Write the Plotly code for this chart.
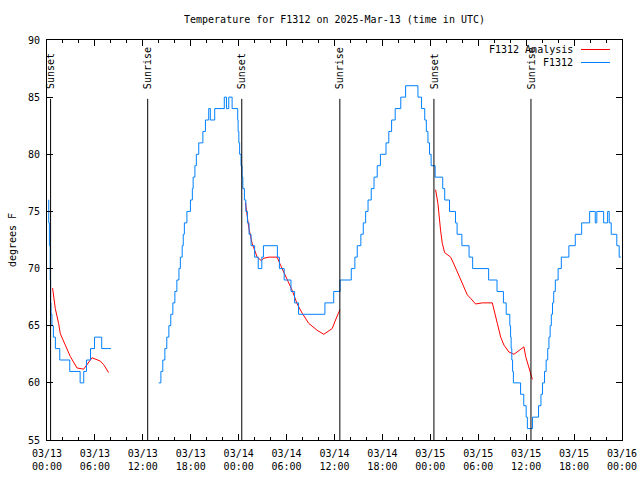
import plotly.graph_objects as go

# ---------------- data (hours since 2025-03-13 00:00 UTC) ----------------
# F1312 observations, step series: (hour at which reading changes, temperature F)
blue_seg1_hours = [0.16, 0.22, 0.3, 0.4, 0.45, 0.5, 0.62, 0.8, 1.05, 1.6, 2.85, 4.15, 4.6, 4.95,
                   5.45, 5.95, 6.85, 8.0]
blue_seg1_temps = [76, 74, 72, 69, 67, 66, 65, 64, 63, 62, 61, 60, 61, 62,
                   63, 64, 63, 63]
blue_seg2_hours = [13.99, 14.26, 14.5, 14.76, 15.0, 15.26, 15.5, 15.76, 16.01, 16.26, 16.52, 16.7,
                   16.93, 17.06, 17.2, 17.52, 17.96, 18.2, 18.3, 18.52, 18.7, 19.0, 19.52, 19.84,
                   20.25, 20.45, 21.0, 22.2, 22.47, 22.76, 23.18, 23.88, 23.93, 24.02, 24.12, 24.3,
                   24.42, 24.52, 24.72, 24.9, 25.1, 25.3, 25.55, 26.0, 26.45, 26.9, 27.1, 28.85,
                   29.1, 29.7, 30.55, 31.0, 31.5, 34.8, 35.9, 36.7, 38.1, 38.55, 38.85, 39.3,
                   39.6, 39.9, 40.2, 40.6, 40.95, 41.35, 41.75, 42.45, 42.8, 43.15, 43.6, 44.3,
                   44.9, 46.45, 46.9, 47.3, 47.5, 47.7, 47.9, 48.1, 48.6, 49.55, 49.8, 50.4,
                   51.15, 51.35, 51.95, 52.85, 53.3, 55.3, 56.35, 57.15, 57.5, 57.95, 58.05, 58.12,
                   58.2, 58.3, 58.4, 59.3, 59.7, 60.0, 60.15, 60.8, 61.55, 61.85, 62.05, 62.3,
                   62.5, 62.7, 62.85, 63.0, 63.15, 63.3, 63.45, 63.65, 64.0, 64.4, 65.35, 66.15,
                   66.95, 67.95, 68.65, 68.85, 69.7, 70.2, 70.4, 70.65, 71.35, 71.65, 71.85]
blue_seg2_temps = [60, 61, 62, 63, 64, 65, 66, 67, 68, 69, 70, 71,
                   72, 73, 74, 75, 76, 77, 78, 79, 80, 81, 82, 83,
                   84, 83, 84, 85, 84, 85, 84, 83, 82, 81, 80, 79,
                   78, 77, 76, 75, 74, 73, 72, 71, 70, 71, 72, 71,
                   70, 69, 68, 67, 66, 67, 68, 69, 70, 71, 72, 73,
                   74, 75, 76, 77, 78, 79, 80, 81, 82, 83, 84, 85,
                   86, 85, 84, 83, 82, 81, 80, 79, 78, 77, 76, 75,
                   74, 73, 72, 71, 70, 69, 68, 67, 66, 65, 64, 63,
                   62, 61, 60, 59, 58, 57, 56, 57, 58, 59, 60, 61,
                   62, 63, 64, 65, 66, 67, 68, 69, 70, 71, 72, 73,
                   74, 75, 74, 75, 74, 75, 74, 73, 72, 71, 71]

# F1312 Analysis
red_seg1_hours = [0.70, 1.04, 1.45, 1.67, 2.29, 2.92, 3.76, 4.59, 5.64, 6.68, 7.09, 7.72]
red_seg1_temps = [68.3, 66.5, 65.2, 64.3, 63.3, 62.3, 61.3, 61.2, 62.2, 61.9, 61.6, 60.9]
red_seg2_hours = [24.85, 25.26, 25.69, 26.32, 26.82, 27.14, 27.77, 28.82, 29.24, 29.86, 30.7,
                  31.33, 31.95, 32.78, 33.83, 34.66, 35.71, 36.13, 36.67]
red_seg2_temps = [75.8, 73.6, 72.2, 71.0, 70.7, 70.9, 71.0, 71.0, 70.3, 69.3, 68.1,
                  66.9, 66.1, 65.2, 64.6, 64.25, 64.75, 65.5, 66.4]
red_seg3_hours = [48.66, 48.95, 49.29, 49.5, 49.79, 50.54, 50.95, 51.79, 52.63, 53.04, 53.67,
                  54.51, 55.76, 56.39, 56.81, 57.22, 57.84, 58.47, 58.9, 59.72, 59.94, 60.35, 60.78]
red_seg3_temps = [76.9, 75.7, 73.3, 72.2, 71.4, 71.0, 70.4, 69.0, 67.7, 67.4, 66.9,
                  67.0, 67.0, 65.2, 64.0, 63.3, 62.7, 62.5, 62.7, 63.15, 62.3, 61.3, 60.3]

# Sun events
event_hours = [0.45, 12.61, 24.39, 36.67, 48.45, 60.6]
event_labels = ["Sunset", "Sunrise", "Sunset", "Sunrise", "Sunset", "Sunrise"]

# Tick labels
tick_hours = [0, 6, 12, 18, 24, 30, 36, 42, 48, 54, 60, 66, 72]
tick_dates = ["03/13", "03/13", "03/13", "03/13", "03/14", "03/14", "03/14", "03/14",
              "03/15", "03/15", "03/15", "03/15", "03/16"]
tick_times = ["00:00", "06:00", "12:00", "18:00", "00:00", "06:00", "12:00", "18:00",
              "00:00", "06:00", "12:00", "18:00", "00:00"]

# ---------------- figure ----------------
FONT = "DejaVu Sans Mono"
BLUE = "#0080ff"
RED = "#ff0000"

blue_x = blue_seg1_hours + [None] + blue_seg2_hours
blue_y = blue_seg1_temps + [None] + blue_seg2_temps
red_x = red_seg1_hours + [None] + red_seg2_hours + [None] + red_seg3_hours
red_y = red_seg1_temps + [None] + red_seg2_temps + [None] + red_seg3_temps

fig = go.Figure()
fig.add_trace(go.Scatter(x=red_x, y=red_y, mode="lines", name="F1312 Analysis",
                         line=dict(color=RED, width=1), connectgaps=False, showlegend=False))
fig.add_trace(go.Scatter(x=blue_x, y=blue_y, mode="lines", name="F1312",
                         line=dict(color=BLUE, width=1, shape="hv"), connectgaps=False,
                         showlegend=False))

for h, lab in zip(event_hours, event_labels):
    fig.add_shape(type="line", xref="x", yref="y", x0=h, x1=h, y0=55, y1=84.85,
                  line=dict(color="black", width=1))
    fig.add_annotation(x=h, y=85.5, xref="x", yref="y", text=lab, textangle=-90,
                       showarrow=False, xanchor="center", yanchor="bottom",
                       font=dict(family=FONT, size=10, color="black"))

# manual gnuplot-style legend (text left, sample line right)
W, H = 640, 480
L, R, T, B = 47, 18, 40, 40
pw, ph = W - L - R, H - T - B


def px(x):
    return (x - L) / pw


def py(y):
    return 1 - (y - T) / ph


for name, color, ypix in [("F1312 Analysis", RED, 49.5), ("F1312", BLUE, 62.5)]:
    fig.add_annotation(x=px(575), y=py(ypix), xref="paper", yref="paper", text=name,
                       showarrow=False, xanchor="right", yanchor="middle",
                       font=dict(family=FONT, size=10, color="black"))
    fig.add_shape(type="line", xref="paper", yref="paper", x0=px(581), x1=px(610),
                  y0=py(ypix), y1=py(ypix), line=dict(color=color, width=1))

fig.update_layout(
    width=W, height=H,
    margin=dict(l=L, r=R, t=T, b=B, pad=0, autoexpand=False),
    paper_bgcolor="white", plot_bgcolor="white",
    font=dict(family=FONT, size=10, color="black"),
    title=dict(text="Temperature for F1312 on 2025-Mar-13 (time in UTC)", x=0.5, xref="paper",
               xanchor="center", y=1 - 19 / H, yanchor="middle",
               font=dict(family=FONT, size=10, color="black")),
)
fig.update_xaxes(range=[0, 72], showgrid=False, zeroline=False, showline=True, linecolor="black",
                 linewidth=1, mirror="ticks", ticks="inside", ticklen=6, tickcolor="black",
                 automargin=False, tickvals=tick_hours, ticklabelstandoff=4,
                 ticktext=[d + "<br>" + t for d, t in zip(tick_dates, tick_times)],
                 minor=dict(dtick=2, tick0=0, ticks="inside", ticklen=3, tickcolor="black"),
                 tickfont=dict(family=FONT, size=10, color="black"))
fig.update_yaxes(range=[55, 90], dtick=5, tick0=55, showgrid=False, zeroline=False, showline=True,
                 linecolor="black", linewidth=1, mirror="ticks", ticks="inside", ticklen=6,
                 automargin=False, ticklabelstandoff=4,
                 tickcolor="black", tickfont=dict(family=FONT, size=10, color="black"),
                 title=dict(text="degrees F", standoff=9,
                            font=dict(family=FONT, size=10, color="black")))

fig.write_html("out.html", config={"displayModeBar": False},
               post_script="document.body.style.margin='0';")
